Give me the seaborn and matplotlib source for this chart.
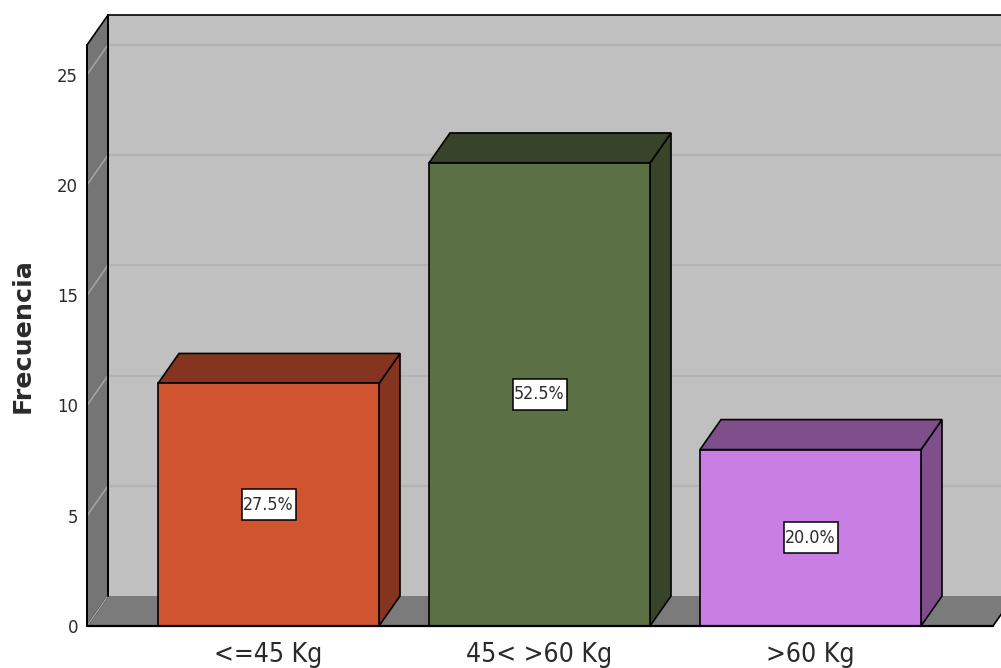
import matplotlib
matplotlib.use("Agg")
import matplotlib.pyplot as plt
from matplotlib.patches import Rectangle
import pandas as pd
import seaborn as sns

categories = ["<=45 Kg", "45< >60 Kg", ">60 Kg"]
values = [11, 21, 8]
percent_labels = ["27.5%", "52.5%", "20.0%"]
y_ticks = [0, 5, 10, 15, 20, 25]
front_colors = ["#D05430", "#5C7045", "#C97EE3"]
side_colors = ["#84341F", "#38442A", "#7F4F8C"]

WALL = "#C0C0C0"
SHADE = "#757575"
FLOOR = "#7B7B7B"
GRID = "#B3B3B3"
SHADE_GRID = "#A6A6A6"
TEXT = "#2A2A2A"
FONT = dict(family="DejaVu Sans", stretch="condensed")

W, H = 1001, 668
L_PX, R_PX, B_PX, T_PX = 87, 993, 626, 45
BAR_STEP_PX = 271
UNIT_PX = 22.05
DEPTH_X_PX, DEPTH_Y_PX = 21, 30
LABEL_W_PX, LABEL_H_PX = 54, 31

sns.set_theme(style="white")
fig = plt.figure(figsize=(W / 100, H / 100), dpi=100, facecolor="white")
ax = fig.add_axes([L_PX / W, (H - B_PX) / H, (R_PX - L_PX) / W, (B_PX - T_PX) / H])
ax.patch.set_visible(False)

df = pd.DataFrame({"cat": categories, "val": values})
sns.barplot(data=df, x="cat", y="val", hue="cat", palette=front_colors, legend=False,
            width=221 / BAR_STEP_PX, edgecolor="black", linewidth=1.2, saturation=1,
            zorder=3, ax=ax)

x0 = -(268.5 - L_PX) / BAR_STEP_PX
x1 = x0 + (R_PX - L_PX) / BAR_STEP_PX
y1 = (B_PX - T_PX) / UNIT_PX
ax.set_xlim(x0, x1)
ax.set_ylim(0, y1)
dx = DEPTH_X_PX / BAR_STEP_PX
dy = DEPTH_Y_PX / UNIT_PX


def poly(xs, ys, color, edge="black", lw=1.2, z=1):
    ax.fill(xs, ys, facecolor=color, edgecolor=edge, linewidth=lw, clip_on=False,
            zorder=z, joinstyle="miter")


# back wall, left wall, floor
poly([x0 + dx, x1 + dx + 0.1, x1 + dx + 0.1, x0 + dx], [dy, dy, y1 + dy, y1 + dy], WALL, edge="none", z=0.5)
ax.plot([x0 + dx, x1 + dx + 0.1], [y1 + dy] * 2, color="black", lw=1.2, clip_on=False, zorder=2)
for t in y_ticks[1:]:
    ax.plot([x0 + dx, x1 + dx + 0.1], [t + dy] * 2, color=GRID, lw=1.6, clip_on=False, zorder=0.7)
poly([x0, x0 + dx, x0 + dx, x0], [0, dy, y1 + dy, y1], SHADE, z=1)
poly([x0, x0 + dx, x1 + dx, x1], [0, dy, dy, 0], FLOOR, edge="none", z=0.8)
ax.plot([x1, x1 + dx], [0, dy], color="black", lw=1.2, clip_on=False, zorder=2)
ax.plot([x0 + dx, x0 + dx], [dy, y1 + dy], color="black", lw=1.4, clip_on=False, zorder=2)
for t in y_ticks:
    ax.plot([x0, x0 + dx], [t, t + dy], color=SHADE_GRID, lw=1.1, clip_on=False, zorder=1.2)
ax.plot([x0, x1], [0, 0], color="black", lw=1.6, clip_on=False, zorder=5)
ax.plot([x0, x0], [0, y1], color="black", lw=1.4, clip_on=False, zorder=2)

# bar depth faces and value labels
half = 221 / BAR_STEP_PX / 2
box_w = LABEL_W_PX / BAR_STEP_PX
box_h = LABEL_H_PX / UNIT_PX
for i, v in enumerate(values):
    poly([i + half, i + half + dx, i + half + dx, i + half], [0, dy, v + dy, v], side_colors[i], z=2.5)
    poly([i - half, i - half + dx, i + half + dx, i + half], [v, v + dy, v + dy, v], side_colors[i], z=2.5)
    ax.add_patch(Rectangle((i - box_w / 2, v / 2 - box_h / 2), box_w, box_h, facecolor="white",
                           edgecolor="black", linewidth=1.1, zorder=6))
    ax.text(i, v / 2, percent_labels[i], ha="center", va="center", fontsize=12.8, color=TEXT,
            zorder=7, **FONT)

ax.set_xlabel("")
ax.set_ylabel("")
ax.set_yticks(y_ticks)
ax.set_xticks(range(len(categories)))
ax.set_xticklabels(categories, fontsize=19, color=TEXT, **FONT)
ax.set_yticklabels([str(t) for t in y_ticks], fontsize=13.2, color=TEXT, **FONT)
ax.tick_params(axis="both", length=0)
ax.tick_params(axis="y", pad=6.4)
ax.tick_params(axis="x", pad=11.5)
sns.despine(ax=ax, left=True, bottom=True, top=True, right=True)

fig.text(23 / W, 1 - 336 / H, "Frecuencia", rotation=90, ha="center", va="center",
         fontsize=18.3, fontweight="bold", color=TEXT, family="DejaVu Sans")

fig.savefig("out.png", dpi=100, facecolor="white")
